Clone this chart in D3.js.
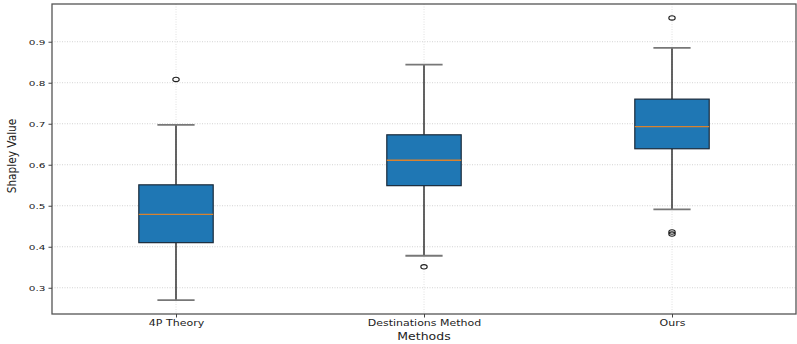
<!DOCTYPE html>
<html>
<head>
<meta charset="utf-8">
<script src="https://cdn.jsdelivr.net/npm/d3@7"></script>
<style>
  html, body { margin: 0; padding: 0; background: #fff; }
  svg { display: block; }
  text { font-family: "DejaVu Sans", sans-serif; fill: #222; }
</style>
</head>
<body>
<svg id="chart" width="797" height="344"></svg>
<script>
// Box-plot statistics per method
const categories = ["4P Theory", "Destinations Method", "Ours"];
const whiskerLow  = [0.270, 0.378, 0.491];
const q1          = [0.410, 0.549, 0.639];
const median      = [0.479, 0.611, 0.693];
const q3          = [0.551, 0.673, 0.760];
const whiskerHigh = [0.697, 0.844, 0.885];
const outliers    = [[0.808], [0.351], [0.958, 0.436, 0.431]];
const yTicks      = [0.3, 0.4, 0.5, 0.6, 0.7, 0.8, 0.9];

const svg = d3.select("#chart");
const plotLeft = 52, plotRight = 796, plotTop = 4, plotBottom = 314;
const squash = 0.72; // vertical text scale used throughout

const x = d3.scalePoint().domain(categories).range([plotLeft, plotRight]).padding(0.5);
const y = d3.scaleLinear().domain([0.236, 0.992]).range([plotBottom, plotTop]);
const step = x.step();
const boxHalf = step * 0.15;
const capHalf = boxHalf / 2;

// grid
const grid = svg.append("g");
grid.selectAll("line.h").data(yTicks).join("line")
  .attr("x1", plotLeft).attr("x2", plotRight)
  .attr("y1", d => y(d)).attr("y2", d => y(d))
  .attr("stroke", "#c8c8c8").attr("stroke-width", 0.8)
  .attr("stroke-dasharray", "1,1.5");
grid.selectAll("line.v").data(categories).join("line")
  .attr("x1", d => x(d)).attr("x2", d => x(d))
  .attr("y1", plotTop).attr("y2", plotBottom)
  .attr("stroke", "#d8d8d8").attr("stroke-width", 0.8)
  .attr("stroke-dasharray", "1,1.5");

// boxes
const rows = categories.map((c, i) => ({
  c, lo: whiskerLow[i], q1: q1[i], med: median[i], q3: q3[i], hi: whiskerHigh[i], out: outliers[i]
}));
const g = svg.append("g").selectAll("g").data(rows).join("g");

g.append("line")
  .attr("x1", d => x(d.c)).attr("x2", d => x(d.c))
  .attr("y1", d => y(d.q1)).attr("y2", d => y(d.lo))
  .attr("stroke", "#111").attr("stroke-width", 1.3);
g.append("line")
  .attr("x1", d => x(d.c)).attr("x2", d => x(d.c))
  .attr("y1", d => y(d.q3)).attr("y2", d => y(d.hi))
  .attr("stroke", "#111").attr("stroke-width", 1.3);
g.append("rect")
  .attr("x", d => x(d.c) - boxHalf).attr("width", boxHalf * 2)
  .attr("y", d => y(d.q3)).attr("height", d => y(d.q1) - y(d.q3))
  .attr("fill", "#1f77b4").attr("stroke", "#1a2a3a").attr("stroke-width", 1.2);
g.append("line")
  .attr("x1", d => x(d.c) - boxHalf).attr("x2", d => x(d.c) + boxHalf)
  .attr("y1", d => y(d.med)).attr("y2", d => y(d.med))
  .attr("stroke", "#d8822f").attr("stroke-width", 1.3);
g.selectAll("line.cap").data(d => [d.lo, d.hi].map(v => ({c: d.c, v}))).join("line")
  .attr("x1", d => x(d.c) - capHalf).attr("x2", d => x(d.c) + capHalf)
  .attr("y1", d => y(d.v)).attr("y2", d => y(d.v))
  .attr("stroke", "#777").attr("stroke-width", 1.8);
g.selectAll("ellipse").data(d => d.out.map(v => ({c: d.c, v}))).join("ellipse")
  .attr("cx", d => x(d.c)).attr("cy", d => y(d.v))
  .attr("rx", 3.2).attr("ry", 2.2)
  .attr("fill", "none").attr("stroke", "#222").attr("stroke-width", 1.1);

// frame
svg.append("rect")
  .attr("x", plotLeft).attr("y", plotTop)
  .attr("width", plotRight - plotLeft).attr("height", plotBottom - plotTop)
  .attr("fill", "none").attr("stroke", "#555").attr("stroke-width", 1.3);

// y axis
const ya = svg.append("g").attr("transform", `translate(${plotLeft},0)`)
  .call(d3.axisLeft(y).tickValues(yTicks).tickFormat(d3.format(".1f")).tickSize(3.5).tickPadding(3));
ya.select(".domain").remove();
ya.selectAll(".tick line").attr("stroke", "#444");
ya.selectAll(".tick text")
  .attr("dy", "0.36em").attr("font-size", 10.5)
  .attr("font-family", "DejaVu Sans").attr("fill", "#222")
  .attr("transform", `scale(1,${squash})`);

// x axis
const xa = svg.append("g").attr("transform", `translate(0,${plotBottom})`)
  .call(d3.axisBottom(x).tickSize(3.5).tickPadding(3));
xa.select(".domain").remove();
xa.selectAll(".tick line").attr("stroke", "#444");
xa.selectAll(".tick text")
  .attr("y", 0).attr("dy", 0).attr("font-size", 11)
  .attr("font-family", "DejaVu Sans").attr("fill", "#222")
  .attr("transform", `translate(0,11.5) scale(1,${squash})`);

// axis titles
svg.append("text")
  .attr("text-anchor", "middle").attr("font-size", 12.5)
  .attr("transform", `translate(${(plotLeft + plotRight) / 2},340) scale(1,0.8)`)
  .text("Methods");
svg.append("text")
  .attr("text-anchor", "middle").attr("font-size", 12)
  .attr("transform", "translate(15.5,156) rotate(-90) scale(0.88,1)")
  .text("Shapley Value");
</script>
</body>
</html>
